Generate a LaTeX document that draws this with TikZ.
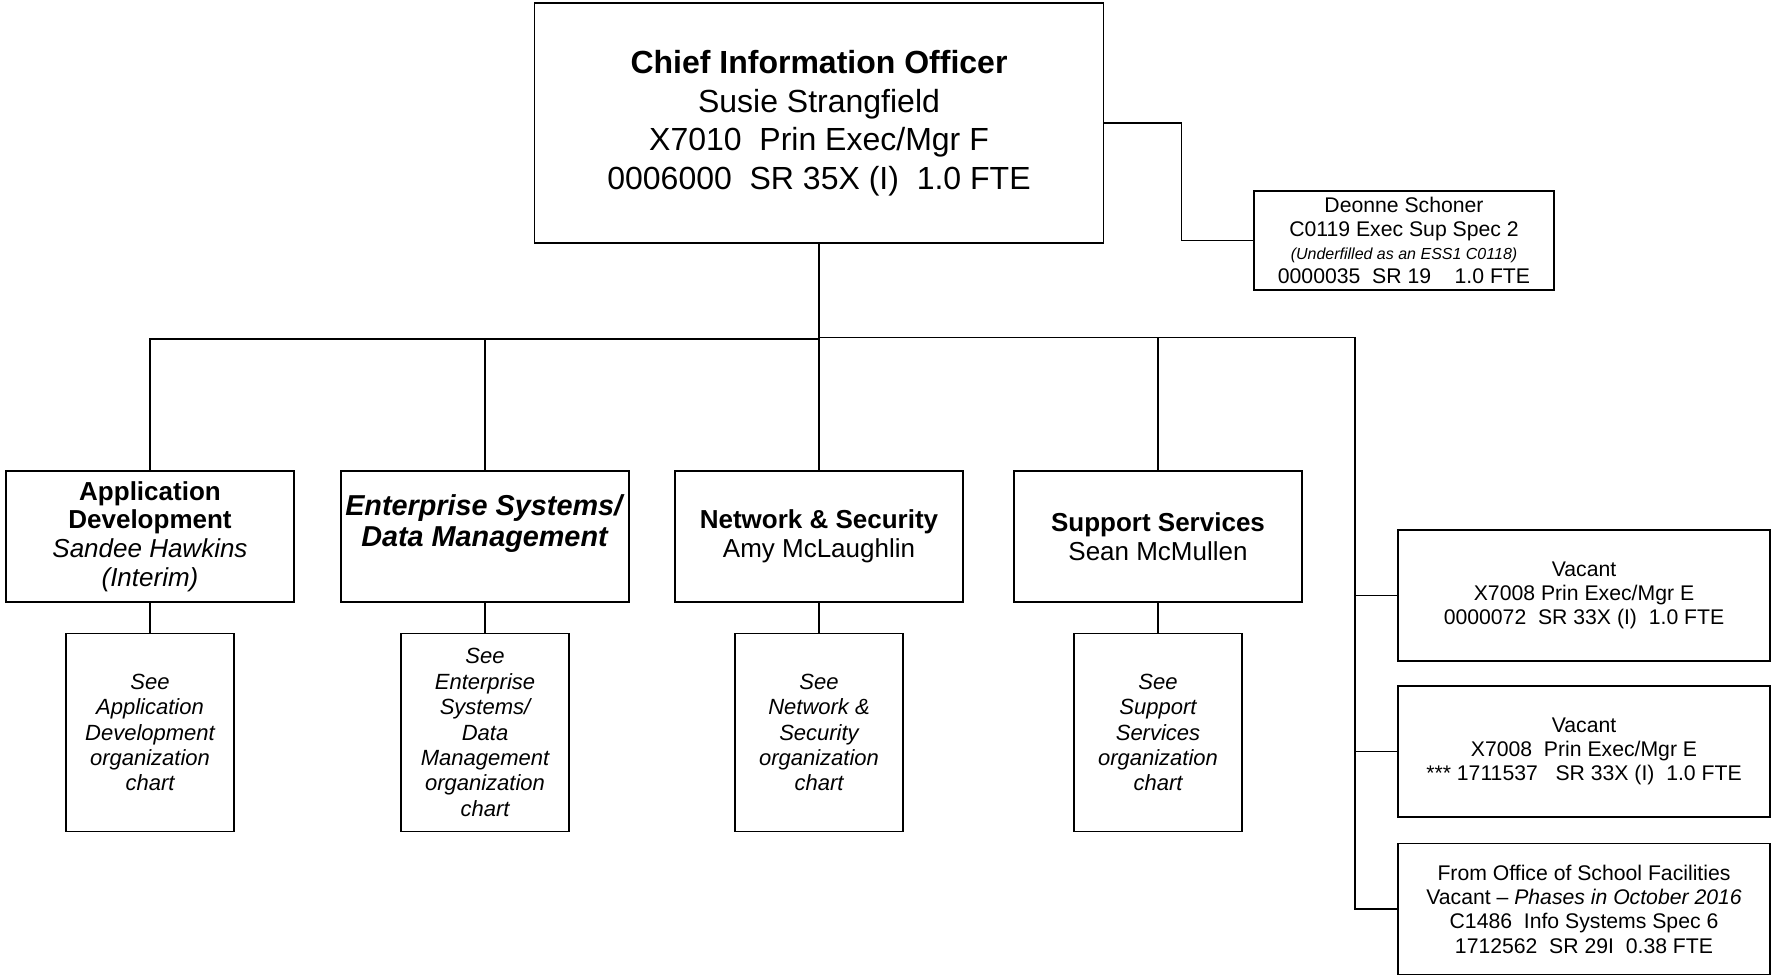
\documentclass[tikz,border=0pt]{standalone}
\usepackage{fontspec}
\setmainfont{Liberation Sans}
\usetikzlibrary{positioning}

\begin{document}
\begin{tikzpicture}[x=0.5pt, y=-0.5pt,
            linkstyle/.style={line width=0.75pt}]
            % A box style
            \tikzstyle{boxnode} = [draw, rectangle, align=center, line width=0.75pt, inner sep=2pt]
            \tikzstyle{deptnode} = [boxnode, minimum width=144pt, minimum height=65.5pt, font=\fontsize{13}{14.3}\selectfont]
            \tikzstyle{seenode} = [boxnode, minimum width=84pt, minimum height=99pt, font=\fontsize{11}{12.7}\selectfont\itshape]
            \tikzstyle{posnode} = [boxnode, minimum width=186pt, minimum height=65.5pt, font=\fontsize{10.6}{12.15}\selectfont]
            \useasboundingbox (0,0) rectangle (1771,975);
            % Define the nodes
            \node (CIO) [boxnode, minimum width=284.5pt, minimum height=120pt, font=\fontsize{16}{19.25}\selectfont] at (819,123)
                {\textbf{Chief Information Officer}\\Susie Strangfield\\X7010~~Prin Exec/Mgr F\\0006000~~SR 35X (I)~~1.0 FTE};
            \node (deonne) [boxnode, minimum width=150pt, minimum height=49.5pt, font=\fontsize{10.6}{11.75}\selectfont] at (1404,240.5)
                {Deonne Schoner\\C0119 Exec Sup Spec 2\\{\fontsize{8}{9}\selectfont\itshape (Underfilled as an ESS1 C0118)}\\0000035~~SR 19~~~~1.0 FTE};
            \node (appdev) [deptnode] at (150,536.5) {\textbf{Application}\\\textbf{Development}\\\textit{Sandee Hawkins}\\\textit{(Interim)}};
            \node (entsys) [deptnode, font=\fontsize{14.4}{15.8}\selectfont] at (485,536.5) {\textbf{\textit{Enterprise Systems/}}\\\textbf{\textit{Data Management}}\\\mbox{}};
            \node (netsec) [deptnode] at (819,536.5) {\textbf{Network \& Security}\\Amy McLaughlin};
            \node (suppsvc) [deptnode] at (1158,536.5) {\textbf{Support Services}\\Sean McMullen};

            \node (appsee) [seenode, below=15pt of appdev] {See\\Application\\Development\\organization\\chart};
            \node (entsee) [seenode, below=15pt of entsys] {See\\Enterprise\\Systems/\\Data\\Management\\organization\\chart};
            \node (netsee) [seenode, below=15pt of netsec] {See\\Network \&\\Security\\organization\\chart};
            \node (suppsee) [seenode, below=15pt of suppsvc] {See\\Support\\Services\\organization\\chart};

            \node (vacA) [posnode] at (1584,595.5) {Vacant\\X7008 Prin Exec/Mgr E\\0000072~~SR 33X (I)~~1.0 FTE};
            \node (vacB) [posnode, below=11.75pt of vacA] {Vacant\\X7008~~Prin Exec/Mgr E\\*** 1711537~~~SR 33X (I)~~1.0 FTE};
            \node (vacC) [posnode, below=12.5pt of vacB] {From Office of School Facilities\\Vacant \textendash{} \textit{Phases in October 2016}\\C1486~~Info Systems Spec 6\\1712562~~SR 29I~~0.38 FTE};

            \coordinate (busL) at (819,339);
            \coordinate (busR) at (819,337.5);
            \coordinate (rbus) at (1355,337.5);

            % Draw the connectors
            \draw [linkstyle] (CIO.east) -- ++(77,0) |- (deonne.west);
            \draw [linkstyle] (CIO.south) -- (busL);
            \draw [linkstyle] (busL) -| (appdev.north);
            \draw [linkstyle] (busL) -| (entsys.north);
            \draw [linkstyle] (busL) -- (netsec.north);
            \draw [linkstyle] (busR) -| (suppsvc.north);
            \draw [linkstyle] (busR) -- (rbus) |- (vacC.west);
            \draw [linkstyle] (rbus |- vacA.west) -- (vacA.west);
            \draw [linkstyle] (rbus |- vacB.west) -- (vacB.west);
            \draw [linkstyle] (appdev) -- (appsee);
            \draw [linkstyle] (entsys) -- (entsee);
            \draw [linkstyle] (netsec) -- (netsee);
            \draw [linkstyle] (suppsvc) -- (suppsee);
        \end{tikzpicture}
\end{document}
